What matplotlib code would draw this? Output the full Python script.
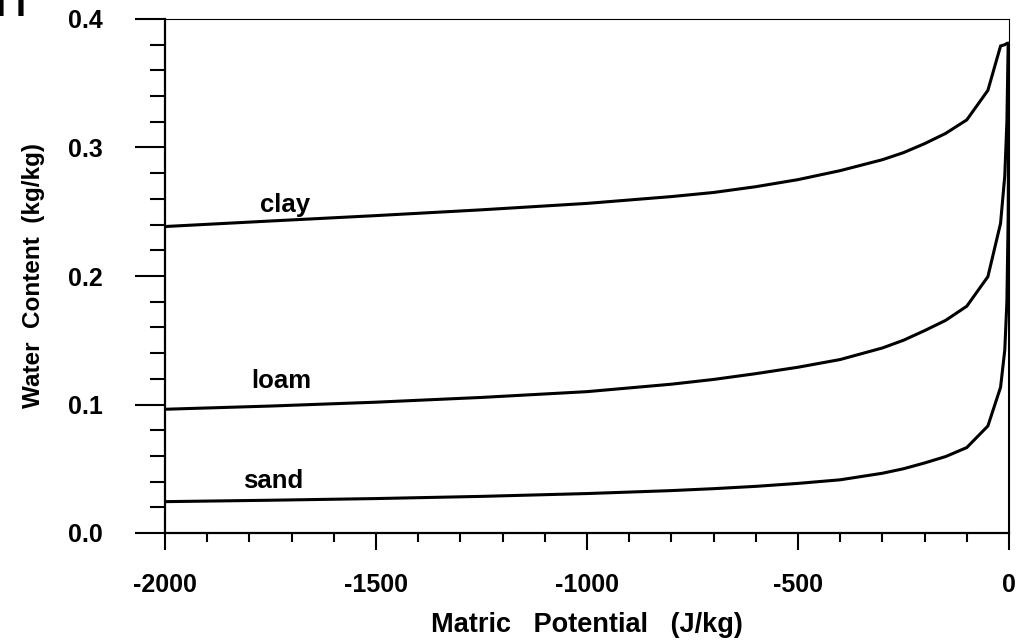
import matplotlib.pyplot as plt
import numpy as np
from matplotlib.ticker import MultipleLocator, FormatStrFormatter

# matric potential (J/kg)
psi = [-2000, -1750, -1500, -1250, -1000, -800, -700, -600, -500, -400, -300,
       -250, -200, -150, -100, -50, -20, -10, -5, -2, -1, 0]

# water content (kg/kg)
clay = [0.2385, 0.2428, 0.2470, 0.2515, 0.2565, 0.2618, 0.2650, 0.2695, 0.2750,
        0.2820, 0.2905, 0.2960, 0.3030, 0.3110, 0.3215, 0.3445, 0.3790, 0.3800,
        0.3810, 0.3810, 0.3810, 0.3810]
loam = [0.0963, 0.0988, 0.1018, 0.1055, 0.1100, 0.1158, 0.1195, 0.1240, 0.1290,
        0.1350, 0.1440, 0.1500, 0.1575, 0.1655, 0.1765, 0.1995, 0.2410, 0.2780,
        0.3200, 0.3800, 0.3810, 0.3810]
sand = [0.0244, 0.0255, 0.0268, 0.0285, 0.0307, 0.0330, 0.0345, 0.0363, 0.0386,
        0.0414, 0.0465, 0.0500, 0.0545, 0.0595, 0.0665, 0.0833, 0.1134, 0.1424,
        0.1800, 0.2450, 0.3100, 0.3810]

# vertical drop at saturation
edge_x = [0, 0]
edge_y = [0.3810, 0.0]

names = ['clay', 'loam', 'sand']
name_x = [-1716, -1725, -1744]
name_y = [0.250, 0.1126, 0.0348]

plt.rcParams['font.family'] = ['Liberation Sans', 'DejaVu Sans']
plt.rcParams['font.weight'] = 'bold'
plt.rcParams['axes.unicode_minus'] = False

fig = plt.figure(figsize=(10.21, 6.42), dpi=100)
ax = fig.add_axes([165/1021, 1 - 533/642, (1009-165)/1021, (533-19)/642])

for y in [clay, loam, sand]:
    ax.plot(psi, y, color='black', linewidth=2.2, solid_joinstyle='miter')
ax.plot(edge_x, edge_y, color='black', linewidth=2.2)

for n, tx, ty in zip(names, name_x, name_y):
    ax.text(tx, ty, n, ha='center', va='baseline', fontsize=18.5, fontweight='bold')

ax.set_xlim(-2000, 0)
ax.set_ylim(0, 0.4)

ax.xaxis.set_major_locator(MultipleLocator(500))
ax.xaxis.set_minor_locator(MultipleLocator(100))
ax.yaxis.set_major_locator(MultipleLocator(0.1))
ax.yaxis.set_minor_locator(MultipleLocator(0.02))
ax.yaxis.set_major_formatter(FormatStrFormatter('%.1f'))
ax.xaxis.set_major_formatter(FormatStrFormatter('%d'))

ax.tick_params(axis='y', which='major', direction='out', length=21.6, width=1.5, pad=23, labelsize=18)
ax.tick_params(axis='y', which='minor', direction='out', length=10.8, width=1.5)
ax.tick_params(axis='x', which='major', direction='out', length=12.5, width=1.5, pad=16, labelsize=18)
ax.tick_params(axis='x', which='minor', direction='out', length=6.5, width=1.5)

for s in ['left', 'bottom']:
    ax.spines[s].set_linewidth(1.6)
for s in ['top', 'right']:
    ax.spines[s].set_linewidth(0.8)

ax.set_xlabel('Matric   Potential   (J/kg)', fontsize=19.5, fontweight='bold', labelpad=11)
ax.set_ylabel('Water  Content  (kg/kg)', fontsize=17.5, fontweight='bold', labelpad=17)

fig.text(-0.004, 1 - 16/642, 'I I', fontsize=26, fontweight='bold', va='baseline')

fig.savefig('out.png', dpi=100)
